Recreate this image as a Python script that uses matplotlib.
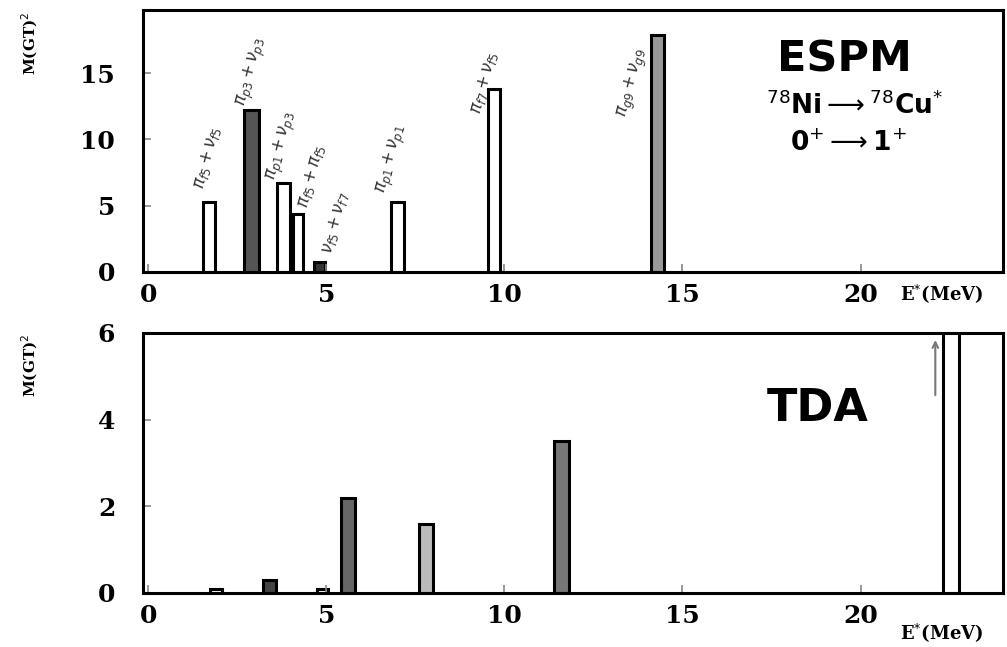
import numpy as np
import matplotlib.pyplot as plt

# ESPM strengths (top panel)
espm_e = [1.7, 2.9, 3.8, 4.2, 4.8, 7.0, 9.7, 14.3]
espm_b = [5.3, 12.2, 6.7, 4.4, 0.7, 5.3, 13.8, 17.9]
espm_w = [0.35, 0.4, 0.35, 0.3, 0.3, 0.35, 0.35, 0.35]
espm_fill = ['white', '#555555', 'white', 'white', '#333333', 'white', 'white', '#999999']
espm_lab = [r'$\pi_{f5}+\nu_{f5}$', r'$\pi_{p3}+\nu_{p3}$', r'$\pi_{p1}+\nu_{p3}$',
            r'$\pi_{f5}+\pi_{f5}$', r'$\nu_{f5}+\nu_{f7}$', r'$\pi_{p1}+\nu_{p1}$',
            r'$\pi_{f7}+\nu_{f5}$', r'$\pi_{g9}+\nu_{g9}$']
# label centres (energy, strength)
lab_x = [1.66, 2.9, 3.76, 4.58, 5.25, 6.85, 9.44, 13.6]
lab_y = [8.6, 15.1, 9.5, 7.2, 3.7, 8.55, 14.3, 14.3]

# TDA strengths (bottom panel)
tda_e = [1.9, 3.4, 4.9, 5.6, 7.8, 11.6, 22.55]
tda_b = [0.1, 0.3, 0.1, 2.2, 1.6, 3.5, 6.3]
tda_w = [0.35, 0.35, 0.3, 0.4, 0.4, 0.4, 0.45]
tda_fill = ['white', '#444444', 'white', '#666666', '#bbbbbb', '#777777', 'white']

fig = plt.figure(figsize=(10.07, 6.47), dpi=100)
ax1 = fig.add_axes([0.142, 0.580, 0.854, 0.405])
ax2 = fig.add_axes([0.142, 0.0835, 0.854, 0.402])

ax1.bar(espm_e, espm_b, width=espm_w, color=espm_fill, edgecolor='black', linewidth=2.2)
ax2.bar(tda_e, tda_b, width=tda_w, color=tda_fill, edgecolor='black', linewidth=2.2)

for x, y, s in zip(lab_x, lab_y, espm_lab):
    ax1.text(x, y, s, rotation=75, ha='center', va='center', fontsize=12, color='#333333')

ax1.set_xlim(-0.15, 24.0)
ax1.set_ylim(0, 19.8)
ax2.set_xlim(-0.15, 24.0)
ax2.set_ylim(0, 6)

ax1.set_yticks([0, 5, 10, 15])
ax2.set_yticks([0, 2, 4, 6])
for ax in (ax1, ax2):
    ax.set_xticks([0, 5, 10, 15, 20])
    ax.tick_params(direction='in', length=6, width=1.2, color='#888888', pad=8)
    ax.tick_params(axis='y', pad=20)
    for lb in ax.get_xticklabels() + ax.get_yticklabels():
        lb.set_family('DejaVu Serif')
        lb.set_weight('bold')
        lb.set_fontsize(18)
    for sp in ax.spines.values():
        sp.set_linewidth(2.2)

ax1.text(0.816, 0.81, 'ESPM', transform=ax1.transAxes, ha='center', va='center',
         family='DejaVu Sans', weight='bold', fontsize=31)
ax1.text(0.828, 0.634, r'$^{78}$Ni$\longrightarrow$$^{78}$Cu$^{*}$', transform=ax1.transAxes,
         ha='center', va='center', family='DejaVu Sans', weight='bold', fontsize=19)
ax1.text(0.82, 0.49, r'0$^{+}$$\longrightarrow$1$^{+}$', transform=ax1.transAxes,
         ha='center', va='center', family='DejaVu Sans', weight='bold', fontsize=19)
ax2.text(0.785, 0.71, 'TDA', transform=ax2.transAxes, ha='center', va='center',
         family='DejaVu Sans', weight='bold', fontsize=32)

ax2.annotate('', xy=(22.1, 5.9), xytext=(22.1, 4.5),
             arrowprops=dict(arrowstyle='->', color='#777777', lw=1.5))

fig.text(0.03, 0.933, r'M(GT)$^2$', rotation=90, ha='center', va='center',
         family='DejaVu Serif', weight='bold', fontsize=11)
fig.text(0.03, 0.436, r'M(GT)$^2$', rotation=90, ha='center', va='center',
         family='DejaVu Serif', weight='bold', fontsize=11)
fig.text(0.935, 0.547, r'E$^{*}$(MeV)', ha='center', va='center',
         family='DejaVu Serif', weight='bold', fontsize=13)
fig.text(0.935, 0.022, r'E$^{*}$(MeV)', ha='center', va='center',
         family='DejaVu Serif', weight='bold', fontsize=13)

fig.savefig('out.png', dpi=100)
